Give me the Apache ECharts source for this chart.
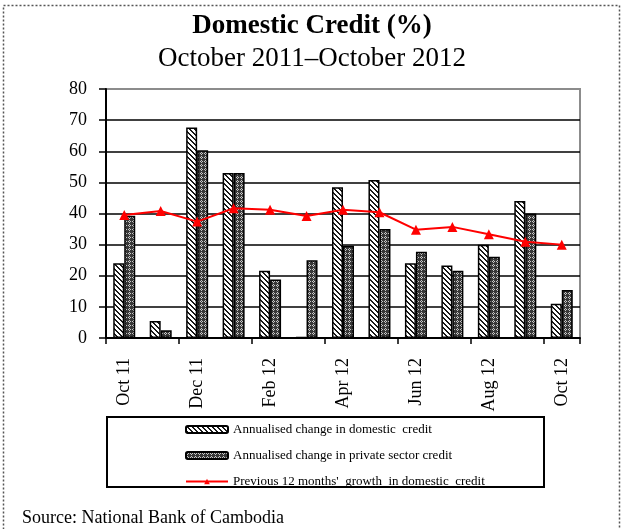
<!DOCTYPE html>
<html>
<head>
<meta charset="utf-8">
<script src="https://cdn.jsdelivr.net/npm/echarts@6/dist/echarts.min.js"></script>
<style>
  html, body { margin: 0; padding: 0; background: #fff; }
  #chart { width: 624px; height: 529px; }
</style>
</head>
<body>
<div id="chart"></div>
<script>
const months = ['Oct 11', 'Nov 11', 'Dec 11', 'Jan 12', 'Feb 12', 'Mar 12', 'Apr 12',
  'May 12', 'Jun 12', 'Jul 12', 'Aug 12', 'Sep 12', 'Oct 12']
const domesticCredit = [24.0, 5.5, 67.6, 53.0, 21.6, 0.3, 48.4, 50.8, 24.0, 23.3, 30.0, 44.0, 11.0]
const privateCredit = [39.3, 2.5, 60.3, 53.0, 18.8, 25.0, 29.6, 35.0, 27.7, 21.6, 26.1, 40.0, 15.4]
const prev12Growth = [39.5, 40.8, 37.4, 41.7, 41.2, 39.2, 41.2, 40.4, 34.8, 35.7, 33.3, 30.9, 30.0]
const yTicks = [0, 10, 20, 30, 40, 50, 60, 70, 80]

const serif = '"Liberation Serif", "DejaVu Serif", serif'

// hatch fills like the old excel chart
function stripePattern() {
  const c = document.createElement('canvas')
  c.width = c.height = 5
  const g = c.getContext('2d')
  g.fillStyle = '#fff'
  g.fillRect(0, 0, 5, 5)
  g.fillStyle = '#1a1a1a'
  for (let i = 0; i < 5; i++) {
    g.fillRect(i, i, 1, 1)
    g.fillRect((i + 1) % 5, i, 1, 1)
  }
  return c
}
function weavePattern() {
  const c = document.createElement('canvas')
  c.width = c.height = 4
  const g = c.getContext('2d')
  g.fillStyle = '#383838'
  g.fillRect(0, 0, 4, 4)
  g.fillStyle = '#c8c8c8'
  g.fillRect(1, 0, 1, 1)
  g.fillRect(0, 1, 1, 1)
  g.fillRect(2, 1, 1, 1)
  g.fillRect(1, 2, 1, 1)
  return c
}

const chart = echarts.init(document.getElementById('chart'))
const splitColors = yTicks.map((v, i) => i === yTicks.length - 1 ? '#8c8c8c' : '#000')

const option = {
  animation: false,
  backgroundColor: '#fff',
  textStyle: { fontFamily: serif },
  title: [
    {
      text: 'Domestic Credit (%)',
      left: 'center',
      top: 8,
      textStyle: { fontFamily: serif, fontSize: 27, fontWeight: 'bold', color: '#000' }
    },
    {
      text: 'October 2011\u2013October 2012',
      left: 'center',
      top: 40,
      textStyle: { fontFamily: serif, fontSize: 27, fontWeight: 'normal', color: '#000' }
    }
  ],
  grid: {
    left: 106,
    right: 44,
    top: 89,
    bottom: 191,
    show: true,
    backgroundColor: '#fff',
    borderColor: '#8c8c8c',
    borderWidth: 2
  },
  legend: {
    orient: 'vertical',
    left: 185,
    top: 423,
    padding: 0,
    itemGap: 13,
    itemWidth: 42,
    itemHeight: 7,
    textStyle: { fontFamily: serif, fontSize: 13, color: '#000' },
    data: [
      'Annualised change in domestic  credit',
      'Annualised change in private sector credit',
      "Previous 12 months'  growth  in domestic  credit"
    ]
  },
  xAxis: {
    type: 'category',
    data: months,
    boundaryGap: true,
    axisLine: { lineStyle: { color: '#000', width: 2 } },
    axisTick: { show: true, interval: 1, length: 6, lineStyle: { color: '#000', width: 1.5 } },
    axisLabel: {
      interval: 1,
      rotate: 90,
      margin: 20,
      fontFamily: serif,
      fontSize: 18,
      color: '#000'
    }
  },
  yAxis: {
    type: 'value',
    min: 0,
    max: 80,
    interval: 10,
    axisLine: { show: true, lineStyle: { color: '#000', width: 2 } },
    axisTick: { show: true, length: 7, lineStyle: { color: '#000', width: 1.5 } },
    axisLabel: { margin: 19, fontFamily: serif, fontSize: 18, color: '#000' },
    splitLine: { show: true, lineStyle: { color: splitColors, width: 1.5 } }
  },
  graphic: [
    {
      type: 'rect',
      shape: { x: 107, y: 417, width: 437, height: 70 },
      style: { fill: 'none', stroke: '#000', lineWidth: 2 },
      z: 1
    },
    {
      type: 'rect',
      shape: { x: 3.5, y: 5.5, width: 616, height: 560 },
      style: { fill: 'none', stroke: '#555', lineWidth: 1.5, lineDash: [2, 2] },
      silent: true
    },
    {
      type: 'text',
      left: 22,
      top: 509,
      style: { text: 'Source: National Bank of Cambodia', font: '18px ' + serif, fill: '#000' }
    }
  ],
  series: [
    {
      name: 'Annualised change in domestic  credit',
      type: 'bar',
      barWidth: 11,
      barGap: '0%',
      itemStyle: {
        color: { image: stripePattern(), repeat: 'repeat' },
        borderColor: '#000',
        borderWidth: 1.5
      },
      data: domesticCredit
    },
    {
      name: 'Annualised change in private sector credit',
      type: 'bar',
      barWidth: 11,
      barGap: '0%',
      itemStyle: {
        color: { image: weavePattern(), repeat: 'repeat' },
        borderColor: '#000',
        borderWidth: 1.5
      },
      data: privateCredit
    },
    {
      name: "Previous 12 months'  growth  in domestic  credit",
      type: 'line',
      symbol: 'triangle',
      symbolSize: 10,
      z: 5,
      itemStyle: { color: '#ff0000' },
      lineStyle: { color: '#ff0000', width: 2 },
      data: prev12Growth
    }
  ]
}
chart.setOption(option)
</script>
</body>
</html>
